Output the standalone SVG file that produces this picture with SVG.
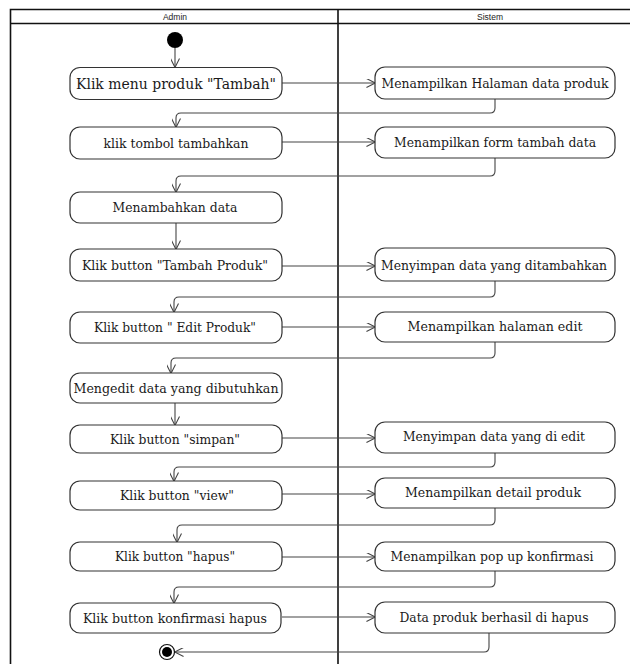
<svg xmlns="http://www.w3.org/2000/svg" width="630" height="664" viewBox="0 0 630 664">
<style>
.frame{fill:none;stroke:#111;stroke-width:1.6}
.node rect{fill:#fff;stroke:#333;stroke-width:1.2}
.node text{font-family:"DejaVu Serif","Liberation Serif",serif;font-size:13.5px;fill:#1a1a1a;text-anchor:middle}
.hdr{font-family:"Liberation Sans",Arial,sans-serif;font-size:8.5px;fill:#222;text-anchor:middle}
.conn path{fill:none;stroke:#444;stroke-width:1.1}
</style>
<defs>
<marker id="ah" viewBox="0 0 10 10" refX="9.5" refY="5" markerWidth="9" markerHeight="9" markerUnits="userSpaceOnUse" orient="auto">
<path d="M0,0 L10,5 L0,10" fill="none" stroke="#444" stroke-width="1.2"/>
</marker>
</defs>
<rect width="630" height="664" fill="#fff"/>
<g id="swimlanes">
<path class="frame" d="M10.5,664 V9.5 H630 M10.5,23.5 H630 M338,9.5 V664"/>
<text class="hdr" x="175" y="19.5">Admin</text>
<text class="hdr" x="490" y="19.5">Sistem</text>
</g>
<g class="conn" id="connectors">
<path d="M175,48 V67" marker-end="url(#ah)"/>
<path d="M282,83 H375" marker-end="url(#ah)"/>
<path d="M495,99 V108 Q495,113 490,113 H181 Q176,113 176,118 V127" marker-end="url(#ah)"/>
<path d="M282,142 H375" marker-end="url(#ah)"/>
<path d="M495,158 V171 Q495,176 490,176 H181 Q176,176 176,181 V192" marker-end="url(#ah)"/>
<path d="M176,223 V249" marker-end="url(#ah)"/>
<path d="M282,266 H375" marker-end="url(#ah)"/>
<path d="M495,281 V292 Q495,297 490,297 H179 Q174,297 174,302 V312" marker-end="url(#ah)"/>
<path d="M282,327 H375" marker-end="url(#ah)"/>
<path d="M495,342 V353 Q495,358 490,358 H176 Q171,358 171,363 V373" marker-end="url(#ah)"/>
<path d="M175,403 V425" marker-end="url(#ah)"/>
<path d="M282,438 H375" marker-end="url(#ah)"/>
<path d="M495,453 V462 Q495,467 490,467 H179 Q174,467 174,472 V481" marker-end="url(#ah)"/>
<path d="M282,494 H375" marker-end="url(#ah)"/>
<path d="M495,508 V520 Q495,525 490,525 H182 Q177,525 177,530 V542" marker-end="url(#ah)"/>
<path d="M282,557 H375" marker-end="url(#ah)"/>
<path d="M495,571 V582 Q495,587 490,587 H179 Q174,587 174,592 V603" marker-end="url(#ah)"/>
<path d="M282,617 H375" marker-end="url(#ah)"/>
<path d="M489,633 V647 Q489,652 484,652 H175" marker-end="url(#ah)"/>
</g>
<g id="start"><circle cx="175" cy="40" r="8" fill="#000"/></g>
<g id="end"><circle cx="167" cy="652" r="7.5" fill="#fff" stroke="#111" stroke-width="1.2"/><circle cx="167" cy="652" r="5" fill="#000"/></g>
<g class="node" id="a1"><rect x="70" y="67.5" width="212" height="32" rx="10"/><text x="176" y="89" style="font-size:15px" textLength="200" lengthAdjust="spacingAndGlyphs">Klik menu produk "Tambah"</text></g>
<g class="node" id="a2"><rect x="70" y="127" width="212" height="32" rx="10"/><text x="176" y="147.5" textLength="145" lengthAdjust="spacingAndGlyphs">klik tombol tambahkan</text></g>
<g class="node" id="a3"><rect x="70" y="192" width="212" height="31" rx="10"/><text x="175" y="212" textLength="125" lengthAdjust="spacingAndGlyphs">Menambahkan data</text></g>
<g class="node" id="a4"><rect x="70" y="249" width="212" height="32" rx="10"/><text x="175" y="270" textLength="186" lengthAdjust="spacingAndGlyphs">Klik  button "Tambah Produk"</text></g>
<g class="node" id="a5"><rect x="70" y="312" width="212" height="31" rx="10"/><text x="175" y="332" textLength="162" lengthAdjust="spacingAndGlyphs">Klik  button " Edit Produk"</text></g>
<g class="node" id="a6"><rect x="70" y="373" width="212" height="30" rx="10"/><text x="176" y="392.5" textLength="205" lengthAdjust="spacingAndGlyphs">Mengedit data yang dibutuhkan</text></g>
<g class="node" id="a7"><rect x="70" y="425" width="212" height="28" rx="10"/><text x="175" y="443.5" textLength="130" lengthAdjust="spacingAndGlyphs">Klik button "simpan"</text></g>
<g class="node" id="a8"><rect x="70" y="481" width="212" height="29" rx="10"/><text x="177" y="500" textLength="114" lengthAdjust="spacingAndGlyphs">Klik button "view"</text></g>
<g class="node" id="a9"><rect x="70" y="542" width="212" height="29" rx="10"/><text x="175" y="561" textLength="120" lengthAdjust="spacingAndGlyphs">Klik button "hapus"</text></g>
<g class="node" id="a10"><rect x="70" y="603" width="211" height="30" rx="10"/><text x="175" y="622.5" textLength="184" lengthAdjust="spacingAndGlyphs">Klik button konfirmasi hapus</text></g>
<g class="node" id="s1"><rect x="375" y="67" width="240" height="32" rx="10"/><text x="495" y="88" textLength="227" lengthAdjust="spacingAndGlyphs">Menampilkan Halaman data produk</text></g>
<g class="node" id="s2"><rect x="375" y="127" width="240" height="31" rx="10"/><text x="495" y="147" textLength="202" lengthAdjust="spacingAndGlyphs">Menampilkan form tambah data</text></g>
<g class="node" id="s3"><rect x="375" y="248" width="240" height="33" rx="10"/><text x="494" y="269.5" textLength="226" lengthAdjust="spacingAndGlyphs">Menyimpan data yang ditambahkan</text></g>
<g class="node" id="s4"><rect x="375" y="312" width="240" height="30" rx="10"/><text x="495" y="331" textLength="175" lengthAdjust="spacingAndGlyphs">Menampilkan halaman edit</text></g>
<g class="node" id="s5"><rect x="375" y="422" width="240" height="31" rx="10"/><text x="494" y="441" textLength="182" lengthAdjust="spacingAndGlyphs">Menyimpan data yang di edit</text></g>
<g class="node" id="s6"><rect x="375" y="478" width="240" height="30" rx="10"/><text x="493" y="497" textLength="176" lengthAdjust="spacingAndGlyphs">Menampilkan detail produk</text></g>
<g class="node" id="s7"><rect x="375" y="542" width="240" height="29" rx="10"/><text x="492" y="560.5" textLength="203" lengthAdjust="spacingAndGlyphs">Menampilkan pop up konfirmasi</text></g>
<g class="node" id="s8"><rect x="375" y="602" width="240" height="31" rx="10"/><text x="494" y="621.5" textLength="189" lengthAdjust="spacingAndGlyphs">Data produk berhasil di hapus</text></g>
</svg>
